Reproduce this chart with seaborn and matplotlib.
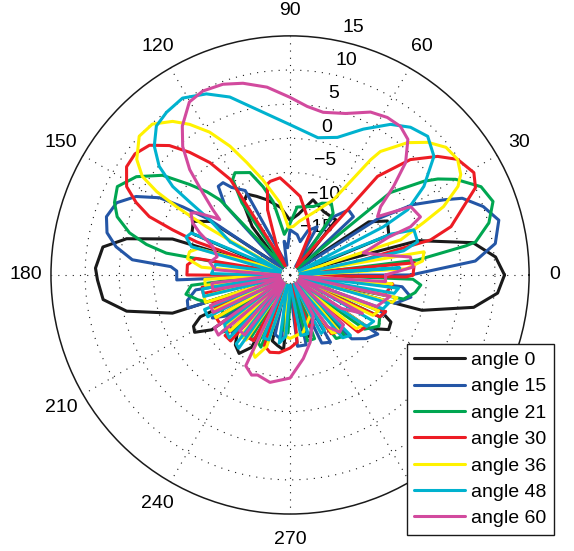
import numpy as np
import matplotlib.pyplot as plt
import seaborn as sns

# polar pattern readings: angle (deg) and level (dB), one pair of lists per curve
th_a0 = [0, 5, 10, 15, 17, 22, 29, 34, 38, 50, 62, 73, 82, 90, 98, 107, 113, 118, 123, 128,
         136, 146, 151, 157, 161, 163, 167.5, 171.5, 178, 181.5, 187.5, 192.5, 198, 201, 205,
         208, 211, 215, 219, 226, 232, 237, 242, 247, 255, 260, 265, 272, 282, 288, 294, 300,
         306, 311, 316, 326, 331, 335, 339, 342, 345, 350, 355]
db_a0 = [11.4, 10.2, 7.2, -0.6, -18.5, -4.4, -3.7, -6.1, -18.5, -9.5, -9.5, -8.5, -11, -12, -10,
         -8.5, -7.5, -6.6, -7.4, -11, -18.5, -6, -3.8, -4.4, -18.5, -2, 4.5, 7.7, 8.5, 8.2, 7.6,
         4.5, -1.9, -18.5, -5.5, -4, -3.7, -6, -18.5, -9, -7, -6.3, -8, -18.5, -10, -9.5, -9,
         -18.5, -11, -10.5, -12, -18.5, -10, -10, -18.5, -6, -3.5, -3.7, -6, -18.5, 0, 7.3, 10.5]

th_a15 = [0, 4.3, 8.7, 14.7, 19.5, 24, 26, 29.8, 32.6, 36, 42.6, 48, 53.4, 57, 60.6, 68, 73, 80,
          90, 95, 100, 108, 118, 123.7, 126, 129, 133, 140, 145.5, 147.6, 149.4, 153, 157.4,
          162.4, 167, 170.8, 174.5, 176, 178, 182.5, 185, 189, 194, 198, 202, 205, 209, 213, 216,
          220, 225, 229, 236, 241, 246, 256, 262, 268, 276, 283, 288, 295, 301, 307, 314, 320,
          326, 331, 335, 338, 342, 345, 349.6, 354, 357.5]
db_a15 = [-2.3, 7.2, 10.4, 11.6, 10, 7.6, 5.1, 0.7, -4.7, -18.5, -7.4, -7.2, -9.4, -18.5, -11.9,
          -13, -14.9, -14, -13.4, -16, -15, -18.5, -6, -4.6, -3.3, -3.3, -6, -18.5, -5.7, -1.4,
          2.2, 5.3, 7.5, 8.2, 7.5, 5.8, 3.2, -2.5, -3.4, -3.4, -18.5, -6, -4.5, -4.3, -18.5, -8,
          -7, -9, -18.5, -8.5, -8, -18.5, -9, -9, -18.5, -11, -10.5, -18.5, -9.5, -9.5, -18.5,
          -9, -8.5, -18.5, -7, -5.5, -4.5, -18.5, -5.5, -5, -18.5, -4, -2, -3.5, -18.5]

th_a21 = [2, 6.7, 9.4, 10.1, 14.7, 19.9, 24.8, 30, 33, 35, 39.4, 42, 55, 60, 66, 71, 84, 92, 98,
          103, 107, 111.4, 118.3, 121, 123.7, 127, 133, 135, 138, 142, 147.4, 152.9, 157.6, 161.4,
          165.3, 168, 170, 173, 186, 190.5, 195, 198, 201, 206, 211, 215, 220, 224, 228, 233, 238,
          241, 245, 248, 252, 262, 268, 275, 285, 291, 297, 306, 312, 318, 324, 330, 335, 338,
          348, 352, 355.6, 358]
db_a21 = [-18.5, -1.2, 6.1, 7.6, 10.1, 11.6, 10.8, 8, 5.8, 3.9, -1, -18.5, -9, -7.9, -8.5, -9.4,
          -10, -13, -14, -9, -6.5, -3.9, -3, -3.7, -7.3, -18.5, -5, -2.8, -0.2, 3.7, 6.7, 8.4,
          7.8, 6.7, 4.3, 1.5, -1.6, -18.5, -5.5, -4.5, -6, -7.2, -18.5, -9, -8.5, -18.5, -7,
          -8.5, -18.5, -9, -9, -18.5, -9, -8.6, -18.5, -12, -11.5, -18.5, -10, -10, -18.5, -8.5,
          -8, -18.5, -6.5, -5, -5.5, -18.5, -3, -1.5, -0.8, -2]

th_a30 = [0, 5.6, 8, 11, 14, 16.7, 21.5, 25.2, 29.1, 34.6, 38.8, 43.8, 48.4, 52, 64.5, 73.7,
          82.7, 90, 95.9, 102, 104, 109, 115, 118, 122, 125.5, 129.3, 133, 137.3, 142, 146.5,
          151.6, 154.8, 157.5, 159, 160.5, 163, 170, 174.4, 180, 184, 188, 192, 195, 199, 203,
          206, 210, 215, 218, 223, 228, 231, 236, 241, 245, 250, 255.4, 262, 270, 276, 282, 290,
          296, 300, 305, 311, 315, 320, 326, 331, 335, 339, 342, 348, 351, 355, 357, 359]
db_a30 = [-2, -1.7, -18.5, -10.6, 1.2, 4.6, 7.3, 10, 10.8, 9.8, 7.7, 4.4, -0.7, -18.5, -13.2,
          -11.1, -8.4, -7.1, -5.7, -6, -6.3, -9.9, -15.4, -18.5, -3.5, 0.2, 3.2, 5.9, 8, 8.8,
          8.7, 7.2, 4.9, 2.3, -1.6, -5.5, -18.5, -6, -4.9, -4.9, -18.5, -7, -7, -18.5, -8, -8,
          -18.5, -7.5, -7.5, -18.5, -7, -7, -18.5, -9, -9, -18.5, -9, -8.3, -8.5, -9.3, -10.1,
          -18.5, -12, -12, -18.5, -9.5, -9, -18.5, -7, -6.5, -18.5, -5.5, -5, -18.5, -6, -5.5,
          -4.9, -18.5, -3]

th_a36 = [0, 3, 6, 9.8, 12, 17.6, 21.4, 24, 27.8, 30.5, 34.6, 39.3, 43.9, 48.4, 53.8, 55, 60,
          69.6, 80, 86.4, 92, 98, 106, 111, 115, 119.4, 123.7, 127.4, 132.4, 137.4, 143, 146.3,
          148, 149, 149.5, 150, 153, 164, 167, 171, 175, 178, 183, 187, 190, 194, 198, 201, 205,
          210, 213, 218, 223, 226, 231, 236, 239, 244, 247, 252, 256, 266, 270, 283, 296.6, 300,
          306, 311, 316, 321, 326, 330, 334, 338, 341, 345, 348, 352, 355, 358]
db_a36 = [-18.5, -3, -0.5, -0.1, -18.5, -3, 1, 4.6, 7.8, 9, 9.8, 9.5, 8, 5.9, 2.4, 0.6, -7.3,
          -10.3, -12, -12.9, -13, -9.3, -5.5, -2.4, 0.8, 4, 6.5, 8.3, 9.9, 10, 8.1, 6, 3, -0.6,
          -3.4, -5.9, -18.5, -6, -4.9, -4.8, -7, -18.5, -7.5, -7.5, -18.5, -7, -7, -18.5, -7.5,
          -7.5, -18.5, -8, -8, -18.5, -8.5, -8.5, -18.5, -7.5, -6.9, -9, -18.5, -11, -10.7,
          -11.4, -13.4, -18.5, -9.5, -9, -18.5, -7.5, -7, -18.5, -6.5, -6, -18.5, -4.5, -4,
          -18.5, -5, -18.5]

th_a48 = [0, 3.7, 7, 12, 14.6, 20, 22, 24, 27.3, 29, 33.5, 39.5, 45.2, 50.8, 56.3, 63.3, 71,
          78.5, 90, 101.3, 108.7, 114.8, 121.3, 127.2, 131.9, 136.5, 140.3, 143, 144, 145.5, 151,
          154, 157, 160, 164, 167, 172, 179, 183, 189, 194, 197, 202, 207, 210, 217, 222, 226,
          229, 232, 235, 238, 247, 252, 256, 261, 266, 272, 280, 287, 293, 298, 302, 305, 310,
          315, 320, 326, 331, 336, 340, 344, 348, 350, 353, 356]
db_a48 = [-18.5, -3.9, -18.5, -3, -0.7, -0.7, -4, -18.5, -4.6, -0.3, 3.5, 7.3, 8.6, 7.9, 6.5,
          3.9, 1.3, 0.5, 2, 4.7, 7.5, 9.2, 10.3, 9.9, 9.3, 7.4, 4.9, 1.5, -1.9, -5.7, -9.9,
          -18.5, -4.3, -3.8, -5, -18.5, -9, -8.5, -18.5, -7, -7, -18.5, -6.5, -6.5, -18.5, -8,
          -7.5, -7.2, -18.5, -7.2, -6.9, -18.5, -10, -10, -18.5, -9.9, -11, -18.5, -11, -11,
          -18.5, -10.3, -10.5, -18.5, -8, -7.5, -18.5, -6.5, -6, -18.5, -5.5, -5, -18.5, -4.5,
          -4, -18.5]

th_a60 = [0, 3.7, 8.5, 12, 16.8, 21, 21.8, 24, 29.5, 33.7, 37, 40.5, 44.2, 49, 53.4, 58.3, 63.7,
          71, 78.5, 84.2, 90, 97, 103.8, 109.4, 115.4, 120.2, 125.9, 129.9, 133.6, 136.7, 139.8,
          141.8, 143, 146.3, 148, 151.8, 155, 160, 166, 171, 176, 180, 186, 191, 196, 201, 206,
          211, 215, 220, 224, 228, 233, 236, 244, 249, 252, 259.4, 270, 279, 286.6, 300, 304,
          306, 311, 317, 322, 327, 332, 336, 340, 343, 348, 352, 356]
db_a60 = [-6, -1.9, -2.2, -6, -8.8, -4.5, -1, 0.9, 0.3, -4.6, -3.4, -0.1, 3.6, 6.3, 7.1, 7.1,
          6.6, 5, 4.3, 4.8, 6, 7.7, 8.9, 9.6, 9.8, 9.3, 6.9, 4.5, 1.3, -2.4, -5.2, -6.9, -6,
          -3.6, -2.9, -3.8, -5.4, -8, -9, -8.1, -9, -18.5, -8.5, -8.5, -18.5, -7.5, -7.5, -18.5,
          -6.5, -6.3, -18.5, -9, -9, -18.5, -5.2, -4.3, -4.6, -4, -4.9, -7.6, -9.7, -13.2,
          -18.5, -10.6, -8.9, -9.3, -18.5, -11, -8, -18.5, -6.5, -6, -5, -18.5, -6]

labels = ["angle 0", "angle 15", "angle 21", "angle 30", "angle 36", "angle 48", "angle 60"]
colors = ["#1a1a1a", "#2456a6", "#00a651", "#ed1c24", "#fff200", "#00b2cf", "#d24a9e"]
r_ticks = [-15, -10, -5, 0, 5, 10]
r_labels = [15, 10, 5, 0, -5, -10, -15]
theta_labels = [0, 30, 60, 90, 120, 150, 180, 210, 240, 270]  # 300 and 330 sit under the legend

sns.set_theme(style="white")
plt.rcParams['font.family'] = ['Liberation Sans', 'DejaVu Sans']
plt.rcParams['text.color'] = 'black'

fig = plt.figure(figsize=(5.74, 5.51), dpi=100)
ax = fig.add_axes([0.0888, 0.067, 0.833, 0.868], projection='polar')

curves = [(th_a0, db_a0), (th_a15, db_a15), (th_a21, db_a21), (th_a30, db_a30),
          (th_a36, db_a36), (th_a48, db_a48), (th_a60, db_a60)]
for (th, db), lab, col in zip(curves, labels, colors):
    # close each pattern back on its first reading
    t = np.deg2rad(np.append(th, th[0] + 360))
    r = np.append(db, db[0])
    sns.lineplot(x=t, y=r, ax=ax, color=col, linewidth=2.2, sort=False,
                 estimator=None, label=lab, zorder=3)

ax.set_ylim(-20, 15)
ax.set_yticks(r_ticks)
ax.set_yticklabels([])
ax.set_xticks(np.deg2rad(np.arange(0, 360, 30)))
ax.set_xticklabels([])
ax.set_xlabel('')
ax.set_ylabel('')
ax.grid(True, color='k', linestyle=(0, (1, 5.5)), linewidth=0.8)
ax.spines['polar'].set_color('k')
ax.spines['polar'].set_linewidth(1.1)
ax.set_facecolor('white')

for ang in theta_labels:
    ax.text(np.deg2rad(ang), 18.7, str(ang), ha='center', va='center',
            fontsize=14, zorder=1, clip_on=False)
for v in r_labels:
    ax.text(np.deg2rad(78), v + 2.1, str(v).replace('-', '\u2212'), ha='left', va='center',
            fontsize=14, zorder=1, clip_on=False)

leg = ax.legend(loc='lower right', bbox_to_anchor=(0.965, 0.029), bbox_transform=fig.transFigure,
                frameon=True, fancybox=False, edgecolor='k', framealpha=1, fontsize=14,
                handlelength=2.6, handletextpad=0.3, labelspacing=0.45, borderpad=0.4,
                borderaxespad=0)
leg.get_frame().set_linewidth(1.0)
leg.set_zorder(10)

fig.savefig('out.png', dpi=100)
